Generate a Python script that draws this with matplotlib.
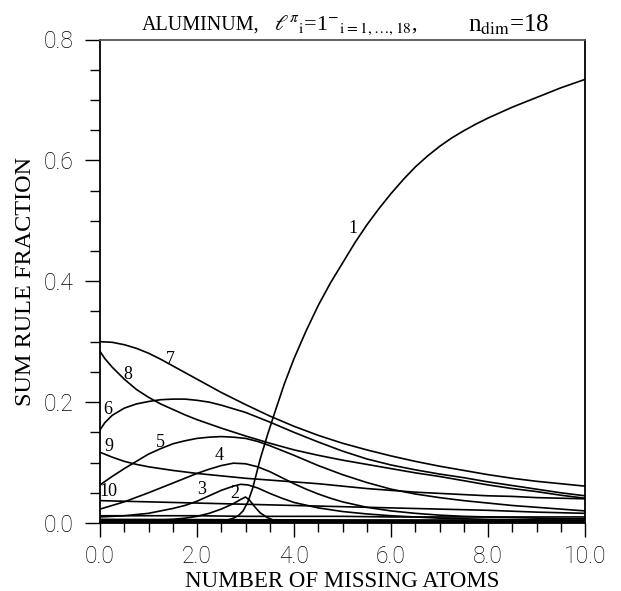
import numpy as np
import matplotlib
matplotlib.use("Agg")
import matplotlib.pyplot as plt
from matplotlib.ticker import MultipleLocator, FormatStrFormatter

plt.rcParams['mathtext.fontset'] = 'stix'

# ---- data ----
x7 = [0.0, 0.25, 0.5, 0.75, 1.0, 1.25, 1.5, 1.75, 2.0, 2.25, 2.5, 2.75, 3.0, 3.5, 4.0,
      4.5, 5.0, 5.5, 6.0, 6.5, 7.0, 7.5, 8.0, 8.5, 9.0, 9.5, 10.0]
c7 = [0.300, 0.299, 0.295, 0.289, 0.281, 0.271, 0.260, 0.249, 0.238, 0.227, 0.216, 0.206,
      0.196, 0.177, 0.160, 0.145, 0.132, 0.121, 0.111, 0.102, 0.094, 0.087, 0.080, 0.074,
      0.069, 0.065, 0.061]

x6 = [0.0, 0.1, 0.25, 0.5, 0.75, 1.0, 1.25, 1.5, 1.75, 2.0, 2.25, 2.5, 2.75, 3.0, 3.5,
      4.0, 4.5, 5.0, 5.5, 6.0, 6.5, 7.0, 7.5, 8.0, 8.5, 9.0, 9.5, 10.0]
c6 = [0.154, 0.166, 0.178, 0.190, 0.197, 0.201, 0.204, 0.205, 0.205, 0.203, 0.200, 0.195,
      0.189, 0.183, 0.167, 0.150, 0.134, 0.119, 0.106, 0.096, 0.088, 0.081, 0.075, 0.068,
      0.062, 0.056, 0.050, 0.045]

x8 = [0.0, 0.1, 0.25, 0.5, 0.75, 1.0, 1.25, 1.5, 1.75, 2.0, 2.5, 3.0, 3.5, 4.0, 4.5,
      5.0, 5.5, 6.0, 6.5, 7.0, 7.5, 8.0, 8.5, 9.0, 9.5, 10.0]
c8 = [0.284, 0.272, 0.258, 0.238, 0.221, 0.208, 0.197, 0.188, 0.179, 0.171, 0.157, 0.144,
      0.132, 0.121, 0.112, 0.104, 0.097, 0.090, 0.083, 0.077, 0.070, 0.063, 0.057, 0.052,
      0.046, 0.041]

x5 = [0.0, 0.25, 0.5, 0.75, 1.0, 1.25, 1.5, 1.75, 2.0, 2.25, 2.5, 2.75, 3.0, 3.25, 3.5,
      3.75, 4.0, 4.5, 5.0, 5.5, 6.0, 6.5, 7.0, 7.5, 8.0, 8.5, 9.0, 9.5, 10.0]
c5 = [0.063, 0.077, 0.090, 0.102, 0.114, 0.123, 0.131, 0.136, 0.140, 0.142, 0.143, 0.142,
      0.140, 0.135, 0.128, 0.120, 0.112, 0.095, 0.080, 0.067, 0.056, 0.048, 0.042, 0.037,
      0.033, 0.029, 0.026, 0.023, 0.020]

x9 = [0.0, 0.25, 0.5, 0.75, 1.0, 1.5, 2.0, 2.5, 3.0, 3.5, 4.0, 4.5, 5.0, 5.5, 6.0, 6.5,
      7.0, 7.5, 8.0, 8.5, 9.0, 9.5, 10.0]
c9 = [0.117, 0.109, 0.102, 0.097, 0.093, 0.087, 0.082, 0.078, 0.074, 0.071, 0.068, 0.065,
      0.061, 0.057, 0.054, 0.051, 0.049, 0.047, 0.045, 0.044, 0.042, 0.041, 0.040]

x10 = [0.0, 1.0, 2.0, 3.0, 4.0, 5.0, 6.0, 7.0, 8.0, 9.0, 10.0]
c10 = [0.037, 0.035, 0.033, 0.031, 0.029, 0.027, 0.025, 0.023, 0.021, 0.018, 0.016]
c11 = [0.012, 0.012, 0.012, 0.011, 0.011, 0.011, 0.010, 0.010, 0.010, 0.010, 0.010]

x4 = [0.0, 0.5, 1.0, 1.5, 2.0, 2.25, 2.5, 2.75, 3.0, 3.25, 3.5, 3.75, 4.0, 4.25, 4.5,
      4.75, 5.0, 5.5, 6.0, 6.5, 7.0, 7.5, 8.0, 8.5, 9.0, 9.5, 10.0]
c4 = [0.023, 0.035, 0.050, 0.066, 0.082, 0.089, 0.095, 0.099, 0.098, 0.093, 0.085, 0.075,
      0.065, 0.056, 0.048, 0.041, 0.035, 0.026, 0.020, 0.016, 0.013, 0.011, 0.010, 0.009,
      0.008, 0.007, 0.007]

x3 = [0.0, 0.5, 1.0, 1.5, 1.75, 2.0, 2.25, 2.5, 2.75, 2.9, 3.05, 3.25, 3.5, 3.75, 4.0,
      4.5, 5.0, 5.5, 6.0, 6.5, 7.0, 7.5, 8.0, 9.0, 10.0]
c3 = [0.010, 0.012, 0.016, 0.024, 0.029, 0.036, 0.045, 0.054, 0.061, 0.064, 0.063, 0.058,
      0.049, 0.041, 0.034, 0.025, 0.019, 0.015, 0.012, 0.010, 0.008, 0.007, 0.006, 0.005,
      0.004]

x2 = [0.0, 1.0, 1.5, 1.75, 2.0, 2.25, 2.5, 2.75, 2.9, 3.0, 3.08, 3.2, 3.3, 3.45, 3.6,
      3.8, 4.5, 10.0]
c2 = [0.003, 0.004, 0.006, 0.008, 0.011, 0.016, 0.023, 0.032, 0.039, 0.043, 0.038, 0.026,
      0.017, 0.009, 0.004, 0.002, 0.001, 0.001]

x1 = [0.0, 2.0, 2.4, 2.6, 2.75, 2.85, 2.95, 3.05, 3.15, 3.3, 3.45, 3.6, 3.8, 4.0, 4.25,
      4.5, 4.75, 5.0, 5.25, 5.5, 5.75, 6.0, 6.25, 6.5, 6.75, 7.0, 7.25, 7.5, 7.75, 8.0,
      8.5, 9.0, 9.5, 10.0]
c1 = [0.000, 0.001, 0.002, 0.004, 0.008, 0.012, 0.020, 0.035, 0.058, 0.105, 0.145, 0.182,
      0.230, 0.272, 0.318, 0.360, 0.397, 0.430, 0.463, 0.493, 0.520, 0.545, 0.568, 0.589,
      0.607, 0.623, 0.637, 0.649, 0.660, 0.670, 0.688, 0.704, 0.720, 0.734]

# remaining eigenstates 12..18, all close to zero
x_low = [0.0, 5.0, 10.0]
c_low = [[0.006, 0.005, 0.005], [0.004, 0.004, 0.003], [0.003, 0.003, 0.002],
         [0.002, 0.002, 0.002], [0.0015, 0.001, 0.001], [0.001, 0.001, 0.0005],
         [0.0005, 0.0005, 0.0003]]

labels = ["1", "2", "3", "4", "5", "6", "7", "8", "9", "10"]
label_x = [5.22, 2.78, 2.10, 2.45, 1.24, 0.16, 1.46, 0.58, 0.19, 0.17]
label_y = [0.488, 0.049, 0.055, 0.111, 0.133, 0.187, 0.271, 0.245, 0.126, 0.052]

fig = plt.figure(figsize=(6.21, 5.91), dpi=100)
ax = fig.add_axes([100 / 621, 1 - 523 / 591, 485 / 621, 483.5 / 591])

lw = 1.2
series = [(x7, c7), (x6, c6), (x8, c8), (x5, c5), (x9, c9), (x10, c10), (x10, c11),
          (x4, c4), (x3, c3), (x2, c2), (x1, c1)]
for xs, ys in series:
    ax.plot(xs, ys, color="black", lw=lw)
for ys in c_low:
    ax.plot(x_low, ys, color="black", lw=lw)

for t, lx, ly in zip(labels, label_x, label_y):
    ax.text(lx, ly, t, fontsize=13, family="Liberation Serif", ha="center", va="center")

ax.set_xlim(0, 10)
ax.set_ylim(0, 0.8)
ax.xaxis.set_major_locator(MultipleLocator(2.0))
ax.xaxis.set_minor_locator(MultipleLocator(0.5))
ax.yaxis.set_major_locator(MultipleLocator(0.2))
ax.yaxis.set_minor_locator(MultipleLocator(0.05))
ax.xaxis.set_major_formatter(FormatStrFormatter("%.1f"))
ax.yaxis.set_major_formatter(FormatStrFormatter("%.1f"))
ax.tick_params(axis="y", which="major", direction="out", length=11, width=1, pad=8)
ax.tick_params(axis="y", which="minor", direction="out", length=7, width=1)
ax.tick_params(axis="x", which="major", direction="out", length=10, width=1, pad=6)
ax.tick_params(axis="x", which="minor", direction="out", length=6.5, width=1)
for lab in ax.get_xticklabels() + ax.get_yticklabels():
    lab.set_family(["Roboto", "DejaVu Sans"])
    lab.set_weight("light")
    lab.set_fontsize(16.5)
    lab.set_color("black")

for s in ax.spines.values():
    s.set_linewidth(1.3)
ax.spines["top"].set_color("#555555")

ax.set_xlabel("NUMBER OF MISSING ATOMS", family="Liberation Serif", fontsize=16.5, labelpad=2)
ax.set_ylabel("SUM RULE FRACTION", family="Liberation Serif", fontsize=17.5)
ax.yaxis.set_label_coords(-0.132, 0.5)

# title in three pieces, as spaced in the original
ty = 1 - 25 / 591
fig.text(142 / 621, ty, "ALUMINUM,", family="Liberation Serif", fontsize=14.5, va="center")
fig.text(274 / 621, ty, r"$\ell^{\pi}{}_{\rm i}$=1$^{-}{}_{\rm i=1,\ldots,18}$,",
         family="Liberation Serif", fontsize=16, va="center")
fig.text(468 / 621, ty, r"n$_{\rm dim}$=18", family="Liberation Serif", fontsize=18, va="center")

fig.savefig("out.png", dpi=100)
